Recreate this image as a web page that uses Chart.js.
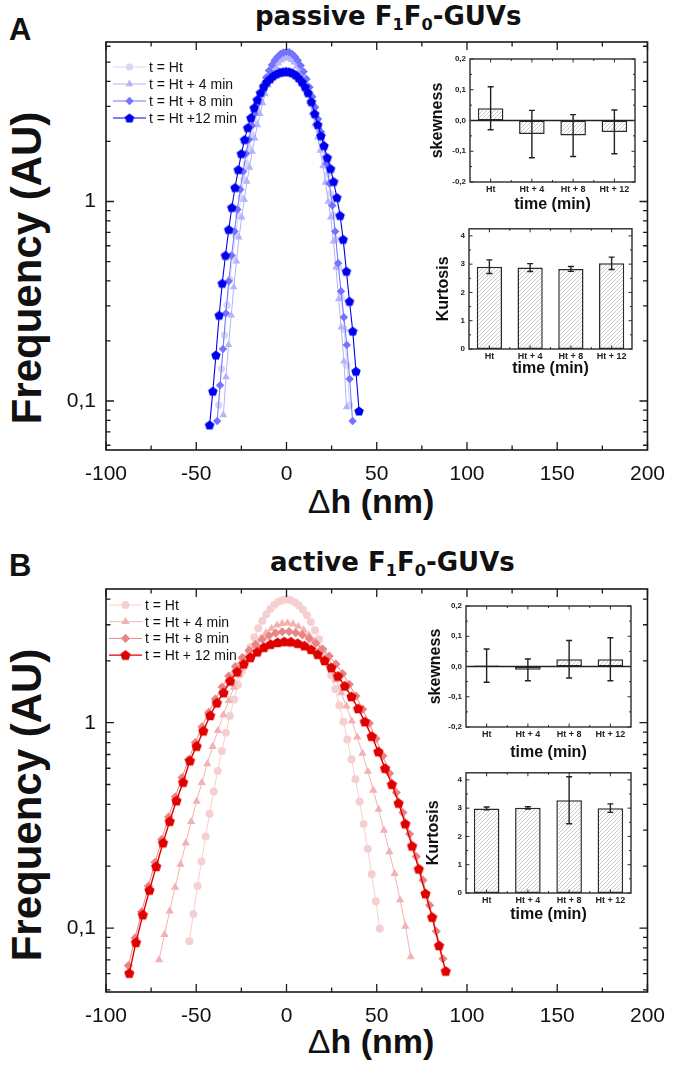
<!DOCTYPE html>
<html>
<head>
<meta charset="utf-8">
<script src="https://cdn.jsdelivr.net/npm/chart.js@4.4.1/dist/chart.umd.min.js"></script>
<style>
  body { margin: 0; width: 677px; height: 1066px; background: #fff; position: relative; overflow: hidden; }
  canvas { position: absolute; }
  .txt { position: absolute; font-family: "Liberation Sans", Arial, sans-serif; font-weight: bold; color: #111; white-space: nowrap; line-height: 1; }
  .ttl { font-family: "DejaVu Sans", sans-serif; font-size: 26px; }
  .ttl sub { font-size: 0.62em; vertical-align: -0.3em; line-height: 0; }
  .rot { transform: translate(-50%, -50%) rotate(-90deg); }
  .mid { transform: translate(-50%, -50%); }
</style>
</head>
<body>
<div class="txt" style="left:9px;top:14px;font-size:31px">A</div>
<div class="txt ttl" style="left:255px;top:3px">passive F<sub>1</sub>F<sub>0</sub>-GUVs</div>
<div class="txt" style="left:9px;top:550px;font-size:31px">B</div>
<div class="txt ttl" style="left:270px;top:549px">active F<sub>1</sub>F<sub>0</sub>-GUVs</div>
<div class="txt rot" style="left:27px;top:268px;font-size:42px">Frequency (AU)</div>
<div class="txt rot" style="left:27px;top:805px;font-size:42px">Frequency (AU)</div>
<div class="txt mid" style="left:371px;top:501px;font-size:34px"><span style="font-weight:normal">&Delta;</span>h (nm)</div>
<div class="txt mid" style="left:371px;top:1041px;font-size:34px"><span style="font-weight:normal">&Delta;</span>h (nm)</div>

<canvas id="mainA" width="677" height="545" style="left:0;top:0"></canvas>
<canvas id="mainB" width="677" height="521" style="left:0;top:545px"></canvas>
<canvas id="skewA" width="245" height="165" style="left:403px;top:50px"></canvas>
<canvas id="kurtA" width="245" height="160" style="left:403px;top:220px"></canvas>
<canvas id="skewB" width="245" height="165" style="left:400px;top:597px"></canvas>
<canvas id="kurtB" width="245" height="161" style="left:400px;top:764px"></canvas>

<script>
// ---- panel A : passive, histogram of height fluctuations (nm) ----
const dhA0 = [-37.5,-36.0,-34.4,-32.9,-31.3,-29.8,-28.2,-26.7,-25.2,-23.6,-22.1,-20.5,-19.0,-17.4,-15.9,-14.4,-12.8,-11.3,-9.7,-8.2,-6.6,-5.1,-3.6,-2.0,-0.5,1.1,2.6,4.2,5.7,7.2,8.8,10.3,11.9,13.4,15.0,16.5,18.0,19.6,21.1,22.7,24.2,25.8,27.3,28.9,30.4,31.9,33.5,35.0];
const freqA0 = [0.0955,0.145,0.214,0.302,0.407,0.525,0.676,0.851,1.047,1.288,1.549,1.854,2.153,2.495,2.831,3.177,3.548,3.890,4.236,4.529,4.808,5.023,5.200,5.321,5.370,5.358,5.272,5.129,4.943,4.699,4.395,4.083,3.724,3.381,3.006,2.661,2.328,1.995,1.660,1.365,1.096,0.851,0.646,0.468,0.331,0.229,0.151,0.0955];
const dhA4 = [-35.0,-33.5,-32.1,-30.6,-29.2,-27.7,-26.3,-24.8,-23.4,-21.9,-20.5,-19.0,-17.6,-16.1,-14.7,-13.2,-11.8,-10.3,-8.8,-7.4,-5.9,-4.5,-3.0,-1.6,-0.1,1.3,2.8,4.2,5.7,7.1,8.6,10.0,11.5,12.9,14.4,15.8,17.3,18.7,20.2,21.6,23.1,24.5,26.0,27.4,28.9,30.3,31.8,33.3];
const freqA4 = [0.0851,0.132,0.191,0.269,0.372,0.501,0.661,0.832,1.023,1.259,1.479,1.778,2.075,2.415,2.748,3.112,3.459,3.819,4.159,4.457,4.732,4.943,5.105,5.212,5.248,5.224,5.129,4.977,4.753,4.498,4.188,3.864,3.499,3.155,2.780,2.443,2.099,1.799,1.503,1.245,1.000,0.832,0.631,0.468,0.324,0.234,0.158,0.0933];
const dhA8 = [-38.4,-36.8,-35.2,-33.6,-32.0,-30.4,-28.8,-27.2,-25.6,-24.0,-22.4,-20.8,-19.2,-17.7,-16.1,-14.5,-12.9,-11.3,-9.7,-8.1,-6.5,-4.9,-3.3,-1.7,-0.1,1.5,3.1,4.7,6.3,7.9,9.5,11.1,12.7,14.3,15.9,17.5,19.1,20.7,22.2,23.8,25.4,27.0,28.6,30.2,31.8,33.4,35.0,36.6];
const freqA8 = [0.0794,0.120,0.182,0.275,0.398,0.537,0.708,0.912,1.148,1.413,1.738,2.042,2.399,2.754,3.090,3.467,3.837,4.188,4.529,4.831,5.105,5.321,5.483,5.585,5.623,5.598,5.495,5.321,5.082,4.797,4.477,4.111,3.741,3.350,2.965,2.588,2.234,1.901,1.549,1.230,0.955,0.708,0.490,0.355,0.263,0.191,0.129,0.0794];
const dhA12 = [-42.6,-40.8,-39.1,-37.3,-35.6,-33.8,-32.0,-30.3,-28.5,-26.7,-25.0,-23.2,-21.5,-19.7,-17.9,-16.2,-14.4,-12.6,-10.9,-9.1,-7.4,-5.6,-3.8,-2.1,-0.3,1.5,3.2,5.0,6.7,8.5,10.3,12.0,13.8,15.6,17.3,19.1,20.8,22.6,24.4,26.1,27.9,29.7,31.4,33.2,34.9,36.7,38.5,40.2];
const freqA12 = [0.0759,0.112,0.170,0.269,0.389,0.537,0.724,0.933,1.175,1.445,1.738,2.042,2.344,2.630,2.951,3.236,3.508,3.758,3.981,4.121,4.266,4.365,4.436,4.467,4.487,4.467,4.416,4.315,4.169,3.981,3.758,3.508,3.162,2.754,2.427,2.138,1.905,1.660,1.462,1.259,1.047,0.851,0.646,0.447,0.316,0.224,0.141,0.0891];

// ---- panel B : active ----
const dhB0 = [-53.8,-51.6,-49.3,-47.1,-44.8,-42.6,-40.3,-38.1,-35.8,-33.6,-31.4,-29.1,-26.9,-24.6,-22.4,-20.1,-17.9,-15.6,-13.4,-11.2,-8.9,-6.7,-4.4,-2.2,0.1,2.3,4.6,6.8,9.1,11.3,13.5,15.8,18.0,20.3,22.5,24.8,27.0,29.3,31.5,33.7,36.0,38.2,40.5,42.7,45.0,47.2,49.5,51.7];
const freqB0 = [0.0863,0.117,0.160,0.211,0.279,0.360,0.463,0.582,0.729,0.893,1.079,1.297,1.528,1.786,2.046,2.333,2.606,2.884,3.141,3.373,3.581,3.750,3.882,3.954,3.981,3.954,3.864,3.733,3.548,3.334,3.097,2.818,2.547,2.254,1.977,1.702,1.455,1.216,1.012,0.828,0.664,0.531,0.413,0.321,0.243,0.183,0.135,0.0991];
const dhB4 = [-70.6,-67.6,-64.7,-61.7,-58.7,-55.8,-52.8,-49.8,-46.9,-43.9,-40.9,-38.0,-35.0,-32.0,-29.1,-26.1,-23.1,-20.2,-17.2,-14.2,-11.3,-8.3,-5.3,-2.4,0.6,3.6,6.5,9.5,12.5,15.4,18.4,21.4,24.3,27.3,30.3,33.2,36.2,39.2,42.1,45.1,48.1,51.0,54.0,57.0,59.9,62.9,65.9,68.8];
const freqB4 = [0.0700,0.0929,0.121,0.158,0.204,0.259,0.330,0.414,0.511,0.630,0.766,0.916,1.091,1.282,1.486,1.710,1.936,2.158,2.371,2.570,2.742,2.877,2.985,3.041,3.055,3.020,2.944,2.831,2.673,2.495,2.291,2.070,1.849,1.618,1.396,1.205,1.019,0.851,0.710,0.579,0.468,0.378,0.299,0.235,0.184,0.137,0.102,0.0724];
const dhB8 = [-87.6,-83.9,-80.2,-76.5,-72.8,-69.1,-65.3,-61.6,-57.9,-54.2,-50.5,-46.8,-43.1,-39.4,-35.7,-32.0,-28.3,-24.5,-20.8,-17.1,-13.4,-9.7,-6.0,-2.3,1.4,5.1,8.8,12.6,16.3,20.0,23.7,27.4,31.1,34.8,38.5,42.2,45.9,49.6,53.4,57.1,60.8,64.5,68.2,71.9,75.6,79.3,83.0,86.7];
const freqB8 = [0.0656,0.0895,0.120,0.160,0.209,0.270,0.347,0.436,0.541,0.662,0.800,0.955,1.122,1.303,1.493,1.687,1.879,2.075,2.249,2.410,2.547,2.655,2.729,2.773,2.780,2.742,2.679,2.570,2.443,2.286,2.113,1.928,1.734,1.538,1.349,1.164,0.993,0.836,0.690,0.566,0.457,0.365,0.287,0.223,0.171,0.129,0.0964,0.0708];
const dhB12 = [-87.1,-83.4,-79.6,-75.9,-72.2,-68.4,-64.7,-61.0,-57.3,-53.5,-49.8,-46.1,-42.3,-38.6,-34.9,-31.2,-27.4,-23.7,-20.0,-16.2,-12.5,-8.8,-5.0,-1.3,2.4,6.2,9.9,13.6,17.3,21.1,24.8,28.5,32.3,36.0,39.7,43.4,47.2,50.9,54.6,58.4,62.1,65.8,69.6,73.3,77.0,80.7,84.5,88.2];
const freqB12 = [0.0603,0.0851,0.116,0.153,0.1995,0.260,0.331,0.417,0.513,0.653,0.769,0.912,1.084,1.250,1.400,1.596,1.770,1.932,2.080,2.213,2.328,2.410,2.460,2.483,2.477,2.438,2.371,2.275,2.153,2.009,1.854,1.687,1.510,1.340,1.172,1.012,0.859,0.723,0.600,0.501,0.406,0.322,0.251,0.194,0.147,0.113,0.0822,0.0617];

const legendA = ['t = Ht', 't = Ht + 4 min', 't = Ht + 8 min', 't = Ht +12 min'];
const legendB = ['t = Ht', 't = Ht + 4 min', 't = Ht + 8 min', 't = Ht + 12 min'];

// insets
const timeLabels = ['Ht', 'Ht + 4', 'Ht + 8', 'Ht + 12'];
const skewA = [0.040, -0.044, -0.049, -0.037];
const skewErrA = [0.070, 0.077, 0.068, 0.071];
const kurtA = [2.91, 2.88, 2.83, 3.03];
const kurtErrA = [0.24, 0.14, 0.085, 0.22];
const skewB = [0.003, -0.011, 0.024, 0.024];
const skewErrB = [0.055, 0.036, 0.062, 0.071];
const kurtB = [2.99, 3.01, 3.28, 3.00];
const kurtErrB = [0.05, 0.04, 0.83, 0.15];

// tick positions
const xTicks = [-100, -75, -50, -25, 0, 25, 50, 75, 100, 125, 150, 175, 200];
const yTicksA = [0.06, 0.07, 0.08, 0.09, 0.1, 0.2, 0.3, 0.4, 0.5, 0.6, 0.7, 0.8, 0.9, 1, 2, 3, 4, 5, 6];
const yTicksB = [0.05, 0.06, 0.07, 0.08, 0.09, 0.1, 0.2, 0.3, 0.4, 0.5, 0.6, 0.7, 0.8, 0.9, 1, 2, 3, 4];
const skewTicks = [-0.2, -0.15, -0.1, -0.05, 0, 0.05, 0.1, 0.15, 0.2];
const kurtTicks = [0, 0.5, 1, 1.5, 2, 2.5, 3, 3.5, 4];

const FONT = '"Liberation Sans", Arial, sans-serif';

// pentagon marker (no such pointStyle in Chart.js)
function pentagon(color, r) {
  const s = Math.ceil(2 * r + 2);
  const c = document.createElement('canvas');
  c.width = s; c.height = s;
  const g = c.getContext('2d');
  g.fillStyle = color;
  g.beginPath();
  for (let k = 0; k < 5; k++) {
    const a = -Math.PI / 2 + k * 2 * Math.PI / 5;
    const px = s / 2 + r * Math.cos(a), py = s / 2 + r * Math.sin(a) + 0.5;
    if (k) g.lineTo(px, py); else g.moveTo(px, py);
  }
  g.closePath();
  g.fill();
  return c;
}

function hatch() {
  const c = document.createElement('canvas');
  c.width = 4; c.height = 4;
  const g = c.getContext('2d');
  g.fillStyle = '#fff';
  g.fillRect(0, 0, 4, 4);
  g.strokeStyle = '#bdbdbd';
  g.lineWidth = 0.8;
  g.beginPath();
  g.moveTo(0, 4); g.lineTo(4, 0);
  g.moveTo(-1, 1); g.lineTo(1, -1);
  g.moveTo(3, 5); g.lineTo(5, 3);
  g.stroke();
  return g.createPattern(c, 'repeat');
}

function series(label, xs, ys, color, style, r, lw) {
  return {
    label: label,
    data: xs.map((x, i) => ({ x: x, y: ys[i] })),
    borderColor: color, backgroundColor: color,
    pointBackgroundColor: color, pointBorderColor: color, pointBorderWidth: 0,
    pointStyle: style, pointRadius: r, borderWidth: lw, tension: 0
  };
}

// inward ticks on all four sides + the frame
const boxTicks = {
  id: 'boxTicks',
  afterDatasetsDraw(chart, args, o) {
    const { ctx, chartArea: a, scales } = chart;
    const sx = scales.x, sy = scales.y;
    ctx.save();
    ctx.strokeStyle = o.color;
    ctx.lineWidth = o.tickWidth;
    ctx.beginPath();
    const onX = (vals, len) => vals.forEach(v => {
      const p = sx.getPixelForValue(v);
      ctx.moveTo(p, a.bottom); ctx.lineTo(p, a.bottom - len);
      ctx.moveTo(p, a.top); ctx.lineTo(p, a.top + len);
    });
    const onY = (vals, len) => vals.forEach(v => {
      const p = sy.getPixelForValue(v);
      ctx.moveTo(a.left, p); ctx.lineTo(a.left + len, p);
      ctx.moveTo(a.right, p); ctx.lineTo(a.right - len, p);
    });
    onX(o.xMajor, o.major); onX(o.xMinor, o.minor);
    onY(o.yMajor, o.major); onY(o.yMinor, o.minor);
    ctx.stroke();
    ctx.lineWidth = o.width;
    ctx.strokeRect(a.left, a.top, a.right - a.left, a.bottom - a.top);
    ctx.restore();
  }
};

function mark(ctx, style, x, y, r) {
  if (style instanceof HTMLCanvasElement) {
    ctx.drawImage(style, x - style.width / 2, y - style.height / 2);
    return;
  }
  ctx.beginPath();
  if (style === 'circle') {
    ctx.arc(x, y, r, 0, Math.PI * 2);
  } else if (style === 'triangle') {
    for (let k = 0; k < 3; k++) {
      const a = k * 2 * Math.PI / 3;
      const px = x + Math.sin(a) * r, py = y - Math.cos(a) * r;
      if (k) ctx.lineTo(px, py); else ctx.moveTo(px, py);
    }
  } else {
    ctx.moveTo(x - r, y); ctx.lineTo(x, y - r); ctx.lineTo(x + r, y); ctx.lineTo(x, y + r);
  }
  ctx.closePath();
  ctx.fill();
}

// legend inside the plot: line + marker + text
const seriesKey = {
  id: 'seriesKey',
  afterDraw(chart, args, o) {
    const ctx = chart.ctx;
    ctx.save();
    ctx.font = '14px ' + FONT;
    ctx.textBaseline = 'middle';
    o.rows.forEach((di, row) => {
      const ds = chart.data.datasets[di];
      const y = o.y + row * o.dy;
      ctx.strokeStyle = ds.borderColor;
      ctx.lineWidth = ds.borderWidth;
      ctx.beginPath(); ctx.moveTo(o.x0, y); ctx.lineTo(o.x1, y); ctx.stroke();
      ctx.fillStyle = ds.pointBackgroundColor;
      mark(ctx, ds.pointStyle, (o.x0 + o.x1) / 2, y, ds.pointRadius);
      ctx.fillStyle = '#111';
      ctx.fillText(o.labels[row], o.xt, y + 1);
    });
    ctx.restore();
  }
};

function mainChart(id, sets, yTicks, yMin, yMax, padTop, xAxisH, key) {
  return new Chart(document.getElementById(id), {
    type: 'line',
    data: { datasets: sets },
    plugins: [boxTicks, seriesKey],
    options: {
      responsive: false, animation: false, events: [],
      layout: { padding: { top: padTop, right: 25, left: 0, bottom: 0 } },
      plugins: {
        legend: { display: false }, tooltip: { enabled: false },
        boxTicks: {
          xMajor: xTicks.filter(v => v % 50 === 0), xMinor: xTicks.filter(v => v % 50 !== 0),
          yMajor: [0.1, 1], yMinor: yTicks.filter(v => v !== 0.1 && v !== 1),
          major: 8, minor: 4.5, width: 1.6, tickWidth: 1.3, color: '#1a1a1a'
        },
        seriesKey: key
      },
      scales: {
        x: {
          type: 'linear', min: -100, max: 200,
          grid: { display: false, drawTicks: false }, border: { display: false },
          afterBuildTicks: s => { s.ticks = xTicks.map(v => ({ value: v })); },
          ticks: { callback: v => (v % 50 === 0 ? String(v) : ''), font: { family: FONT, size: 21 }, color: '#111', padding: 12, maxRotation: 0, autoSkip: false },
          afterFit: s => { s.height = xAxisH; }
        },
        y: {
          type: 'logarithmic', min: yMin, max: yMax,
          grid: { display: false, drawTicks: false }, border: { display: false },
          afterBuildTicks: s => { s.ticks = yTicks.map(v => ({ value: v })); },
          ticks: { callback: v => (v === 1 ? '1' : v === 0.1 ? '0,1' : ''), font: { family: FONT, size: 21 }, color: '#111', padding: 10, autoSkip: false },
          afterFit: s => { s.width = 106; }
        }
      }
    }
  });
}

// panel A (dataset 0 is drawn on top)
const setsA = [
  series('12', dhA12, freqA12, '#0000f0', pentagon('#0000f0', 5), 5, 1.1),
  series('8', dhA8, freqA8, '#7373ff', 'rectRot', 4.2, 1),
  series('4', dhA4, freqA4, '#b3b3ff', 'triangle', 4.4, 1),
  series('0', dhA0, freqA0, '#d6d6fa', 'circle', 3.6, 1)
];
mainChart('mainA', setsA, yTicksA, 0.0568, 6.3, 42, 95,
  { rows: [3, 2, 1, 0], labels: legendA, x0: 113, x1: 146, xt: 149, y: 67, dy: 17 });

const setsB = [
  series('12', dhB12, freqB12, '#e00000', pentagon('#e00000', 5.4), 5.4, 1.4),
  series('8', dhB8, freqB8, '#ea8585', 'rectRot', 4.6, 1),
  series('4', dhB4, freqB4, '#f2b2b2', 'triangle', 4.8, 1),
  series('0', dhB0, freqB0, '#f6d0d0', 'circle', 4, 1)
];
mainChart('mainB', setsB, yTicksB, 0.0488, 4.48, 44, 74,
  { rows: [3, 2, 1, 0], labels: legendB, x0: 109, x1: 142, xt: 145, y: 60, dy: 16.7 });

// error bars and zero line for the bar insets
const errBars = {
  id: 'errBars',
  afterDatasetsDraw(chart, args, o) {
    const { ctx, chartArea: a, scales: { y } } = chart;
    const meta = chart.getDatasetMeta(0);
    const vals = chart.data.datasets[0].data;
    ctx.save();
    ctx.strokeStyle = '#222';
    ctx.lineWidth = 1.4;
    if (o.zero) {
      const z = y.getPixelForValue(0);
      ctx.beginPath(); ctx.moveTo(a.left, z); ctx.lineTo(a.right, z); ctx.stroke();
    }
    meta.data.forEach((bar, i) => {
      const hi = y.getPixelForValue(vals[i] + o.err[i]);
      const lo = y.getPixelForValue(vals[i] - o.err[i]);
      ctx.beginPath();
      ctx.moveTo(bar.x, hi); ctx.lineTo(bar.x, lo);
      ctx.moveTo(bar.x - o.cap, hi); ctx.lineTo(bar.x + o.cap, hi);
      ctx.moveTo(bar.x - o.cap, lo); ctx.lineTo(bar.x + o.cap, lo);
      ctx.stroke();
    });
    ctx.restore();
  }
};

const isMajor = (v, unit) => Math.abs(v / unit - Math.round(v / unit)) < 1e-6;
const comma = v => (v < -1e-9 ? '-' : '') + Math.abs(v).toFixed(1).replace('.', ',');

function inset(id, values, errors, ticks, unit, yMin, yMax, yTitle, fmt, lay) {
  return new Chart(document.getElementById(id), {
    type: 'bar',
    data: {
      labels: timeLabels,
      datasets: [{ data: values, backgroundColor: hatch(), borderColor: '#2b2b2b', borderWidth: 1.5, borderSkipped: false, barPercentage: 0.62, categoryPercentage: 1 }]
    },
    plugins: [errBars, boxTicks],
    options: {
      responsive: false, animation: false, events: [],
      layout: { padding: { top: lay.top, right: lay.right, left: 0, bottom: 0 } },
      plugins: {
        legend: { display: false }, tooltip: { enabled: false },
        errBars: { err: errors, cap: 3, zero: yMin < 0 },
        boxTicks: {
          xMajor: [0, 1, 2, 3], xMinor: [0.5, 1.5, 2.5],
          yMajor: ticks.filter(v => isMajor(v, unit)), yMinor: ticks.filter(v => !isMajor(v, unit)),
          major: 3.5, minor: 2, width: 1.4, tickWidth: 1, color: '#2b2b2b'
        }
      },
      scales: {
        x: {
          grid: { display: false, drawTicks: false }, border: { display: false },
          ticks: { font: { family: FONT, size: 9, weight: 'bold' }, color: '#222', padding: 2, maxRotation: 0, autoSkip: false },
          title: { display: true, text: 'time (min)', font: { family: FONT, size: 16, weight: 'bold' }, color: '#111', padding: { top: 0, bottom: lay.xtPad } },
          afterFit: s => { s.height = lay.xH; }
        },
        y: {
          min: yMin, max: yMax,
          grid: { display: false, drawTicks: false }, border: { display: false },
          afterBuildTicks: s => { s.ticks = ticks.map(v => ({ value: v })); },
          ticks: { callback: v => (isMajor(v, unit) ? fmt(v) : ''), font: { family: FONT, size: 8, weight: 'bold' }, color: '#222', padding: 4, autoSkip: false },
          title: { display: true, text: yTitle, font: { family: FONT, size: 16, weight: 'bold' }, color: '#111', padding: { top: lay.ytPad, bottom: 0 } },
          afterFit: s => { s.width = lay.yW; }
        }
      }
    }
  });
}

inset('skewA', skewA, skewErrA, skewTicks, 0.1, -0.2, 0.2, 'skewness', comma,
  { top: 9, right: 13, yW: 67, xH: 33, xtPad: 1, ytPad: 25 });
inset('kurtA', kurtA, kurtErrA, kurtTicks, 1, 0, 4.25, 'Kurtosis', v => String(Math.round(v)),
  { top: 8, right: 16, yW: 66, xH: 31, xtPad: 2, ytPad: 31 });
inset('skewB', skewB, skewErrB, skewTicks, 0.1, -0.2, 0.2, 'skewness', comma,
  { top: 9, right: 14, yW: 66, xH: 35, xtPad: 0, ytPad: 26 });
inset('kurtB', kurtB, kurtErrB, kurtTicks, 1, 0, 4.25, 'Kurtosis', v => String(Math.round(v)),
  { top: 8, right: 14, yW: 66, xH: 32, xtPad: 1, ytPad: 24 });
</script>
</body>
</html>
